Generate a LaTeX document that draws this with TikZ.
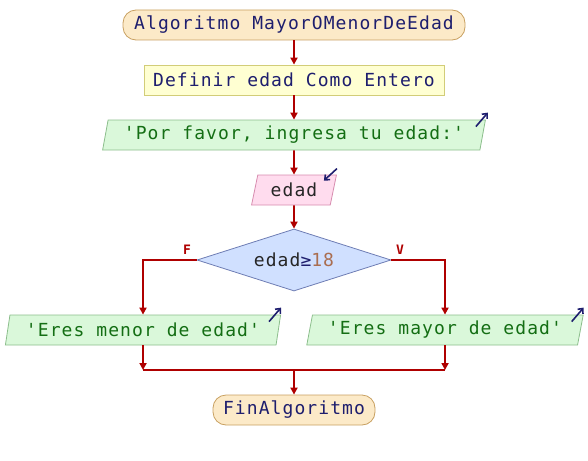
\documentclass[tikz,border=0pt]{standalone}
\usepackage{fontspec}
\usetikzlibrary{shapes.geometric,arrows.meta,calc}
\newfontfamily\codefont[LetterSpace=6]{DejaVu Sans Mono}
\newfontfamily\labfont{DejaVu Sans Mono}
\definecolor{arrred}{RGB}{175,0,0}
\definecolor{navy}{RGB}{30,30,110}
\definecolor{txtgreen}{RGB}{20,110,20}
\definecolor{termfill}{RGB}{252,234,200}
\definecolor{termdraw}{RGB}{200,160,96}
\definecolor{deffill}{RGB}{255,255,210}
\definecolor{defdraw}{RGB}{210,205,120}
\definecolor{outfill}{RGB}{218,248,218}
\definecolor{outdraw}{RGB}{140,190,140}
\definecolor{infill}{RGB}{255,220,238}
\definecolor{indraw}{RGB}{215,140,175}
\definecolor{decfill}{RGB}{208,224,255}
\definecolor{decdraw}{RGB}{110,125,180}
\definecolor{numbrown}{RGB}{170,110,80}
\begin{document}
\begin{tikzpicture}[x=1pt,y=-1pt,
  every node/.style={font=\codefont\fontsize{18}{20}\selectfont, inner sep=0pt},
  term/.style={draw=termdraw, fill=termfill, rounded corners=13pt, minimum height=30pt, text=navy, line width=0.8pt},
  defbox/.style={draw=defdraw, fill=deffill, minimum height=30pt, text=navy, line width=0.8pt},
  para/.style={trapezium, trapezium left angle=74, trapezium right angle=106, trapezium stretches=true, minimum height=30pt, line width=0.8pt},
  outbox/.style={para, draw=outdraw, fill=outfill, text=txtgreen},
  inbox/.style={para, draw=indraw, fill=infill, text=black!85},
  decbox/.style={diamond, aspect=3.13, draw=decdraw, fill=decfill, minimum width=194pt, minimum height=62pt, line width=0.8pt, text=black!85},
  arr/.style={draw=arrred, line width=1.8pt, -{Triangle[width=7pt,length=7pt]}},
  ln/.style={draw=arrred, line width=1.8pt},
  icon/.style={draw=navy, line width=1.6pt, -{Straight Barb[width=7pt,length=4pt]}},
  lab/.style={font=\labfont\bfseries\fontsize{13}{14}\selectfont, text=arrred}
]
\useasboundingbox (0,0) rectangle (588,460);

\node[term, minimum width=342pt] (start) at (294,25) {Algoritmo MayorOMenorDeEdad};
\node[defbox, minimum width=300pt] (def) at (294,80) {Definir edad Como Entero};
\node[outbox, minimum width=383pt] (out1) at (294,135) {'Por favor, ingresa tu edad:'};
\node[inbox, minimum width=85pt] (in1) at (294,190) {edad};
\node[decbox] (dec) at (294,260) {edad{\color{navy}≥}{\color{numbrown}18}};
\node[outbox, minimum width=276pt] (out2) at (143,330) {'Eres menor de edad'};
\node[outbox, minimum width=277pt] (out3) at (445,330) {'Eres mayor de edad'};
\node[term, minimum width=162pt] (fin) at (294,410) {FinAlgoritmo};

\node[lab] (lf) at (187,250) {F};
\node[lab] (lv) at (400,250) {V};

\coordinate (m) at (294,370);

\draw[arr] (start) -- (def);
\draw[arr] (def) -- (out1);
\draw[arr] (out1) -- (in1);
\draw[arr] (in1) -- (dec);
\draw[arr] (dec.west) -| (out2.north);
\draw[arr] (dec.east) -| (out3.north);
\draw[arr] (out2.south) -- (out2.south |- m);
\draw[arr] (out3.south) -- (out3.south |- m);
\draw[ln] (out2.south |- m) -- (out3.south |- m);
\draw[arr] (m) -- (fin);

\draw[icon] ($(out1.top right corner)+(-10,7)$) -- ($(out1.top right corner)+(2,-7)$);
\draw[icon] ($(out2.top right corner)+(-12,7)$) -- ($(out2.top right corner)+(0,-7)$);
\draw[icon] ($(out3.top right corner)+(-12,7)$) -- ($(out3.top right corner)+(0,-7)$);
\draw[icon] ($(in1.top right corner)+(0,-6)$) -- ($(in1.top right corner)+(-13,6)$);
\end{tikzpicture}
\end{document}
